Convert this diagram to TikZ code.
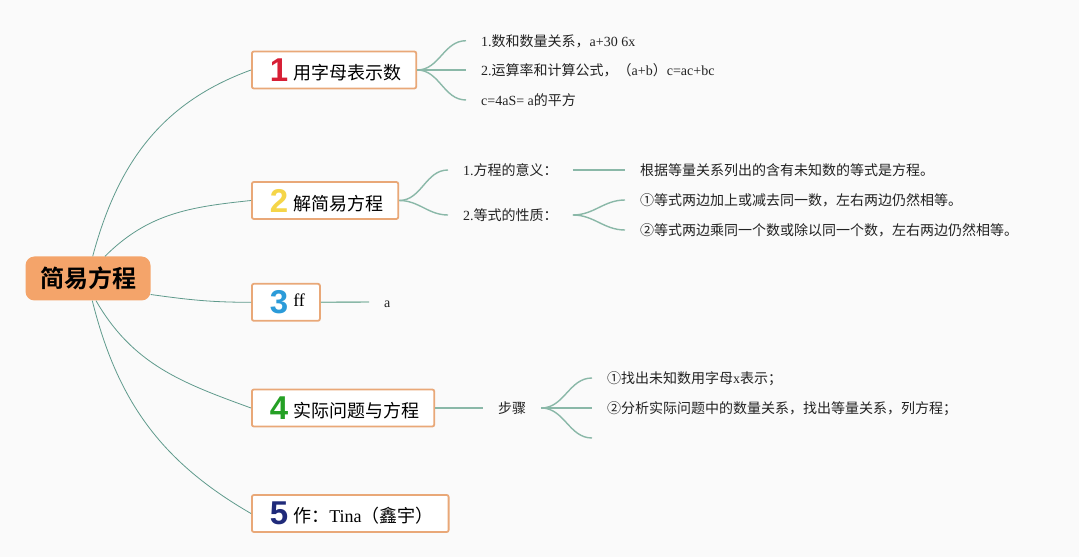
\documentclass[tikz,border=0pt]{standalone}
\usepackage{fontspec}
\setmainfont{Liberation Serif}
\newfontfamily\cjk{Noto Sans CJK SC}[BoldFont={Noto Sans CJK SC Bold}]
\newfontfamily\numfont{Liberation Sans}
\usepackage{tikz}

\definecolor{bg}{HTML}{FAFAFA}
\definecolor{rootfill}{HTML}{F4A46A}
\definecolor{boxline}{HTML}{E9A878}
\definecolor{trunkline}{HTML}{5F9A8C}
\definecolor{twigline}{HTML}{8AB8A8}
\definecolor{leaftext}{HTML}{222222}
\definecolor{num1}{HTML}{D71F35}
\definecolor{num2}{HTML}{F5D548}
\definecolor{num3}{HTML}{2B9BD9}
\definecolor{num4}{HTML}{25A025}
\definecolor{num5}{HTML}{1F2A7A}

\newcommand\branchlabel[3]{\hspace*{18pt}{\numfont\bfseries\fontsize{33}{36}\selectfont\color{#1}#2}\hspace{5pt}#3\hspace*{15pt}}

\begin{document}
\begin{tikzpicture}[x=1pt,y=1pt,
    branch/.style={draw=boxline,line width=1.8pt,fill=white,rounded corners=2pt,inner sep=0pt,
      minimum height=37pt,anchor=west,font=\fontsize{18}{22}\selectfont},
    leaf/.style={anchor=west,inner xsep=15pt,inner ysep=0pt,text height=12pt,text depth=0pt,
      font=\fontsize{14}{16}\selectfont,text=leaftext},
    trunk/.style={draw=trunkline,line width=0.8pt},
    twig/.style={draw=twigline,line width=1.4pt}]
    \fill[bg] (0,0) rectangle (1079,557);
    \useasboundingbox (0,0) rectangle (1079,557);

    \node (root) [fill=rootfill,rounded corners=9pt,minimum width=125pt,minimum height=44pt,inner sep=0pt,
      font=\cjk\bfseries\fontsize{24}{28}\selectfont] at (88,278.5) {简易方程};

    % main branches
    \node (b1) [branch] at (251,487) {\branchlabel{num1}{1}{\raisebox{2pt}{\cjk 用字母表示数}}};
    \node (b2) [branch] at (251,356.5) {\branchlabel{num2}{2}{\raisebox{2pt}{\cjk 解简易方程}}};
    \node (b3) [branch] at (251,254.7) {\branchlabel{num3}{3}{\raisebox{7pt}{ff}}};
    \node (b4) [branch] at (251,149) {\branchlabel{num4}{4}{\raisebox{2pt}{\cjk 实际问题与方程}}};
    \node (b5) [branch] at (251,43.5) {\branchlabel{num5}{5}{\raisebox{2pt}{{\cjk 作：}Tina{\cjk （鑫宇）}}}};

    \draw[trunk] ([xshift=4.7pt]root.north) to[out=75,in=200] (b1.west);
    \draw[trunk] ([xshift=17pt]root.north) to[out=45,in=186] (b2.west);
    \draw[trunk] ([yshift=-16pt]root.east) to[out=-8,in=180] (b3.west);
    \draw[trunk] ([xshift=8pt]root.south) to[out=-60,in=160] (b4.west);
    \draw[trunk] ([xshift=4.3pt]root.south) to[out=-76,in=150] (b5.west);

    % 1
    \node (l11) [leaf] at (466,516.3) {1.{\cjk 数和数量关系，}a+30 6x};
    \node (l12) [leaf] at (466,487) {2.{\cjk 运算率和计算公式，（}a+b{\cjk ）}c=ac+bc};
    \node (l13) [leaf] at (466,457) {c=4aS= a{\cjk 的平方}};
    \foreach \n in {l11,l12,l13}
      \draw[twig] (b1.east) to[out=0,in=180] (\n.west);

    % 2
    \node (l21) [leaf] at (448,387) {1.{\cjk 方程的意义：}};
    \node (l22) [leaf] at (448,342) {2.{\cjk 等式的性质：}};
    \draw[twig] (b2.east) to[out=0,in=180] (l21.west);
    \draw[twig] (b2.east) to[out=0,in=180] (l22.west);
    \node (l211) [leaf] at (625,387) {\cjk 根据等量关系列出的含有未知数的等式是方程。};
    \draw[twig] (l21.east) -- (l211.west);
    \node (l221) [leaf] at (625,357) {\cjk ①等式两边加上或减去同一数，左右两边仍然相等。};
    \node (l222) [leaf] at (625,327) {\cjk ②等式两边乘同一个数或除以同一个数，左右两边仍然相等。};
    \draw[twig] (l22.east) to[out=0,in=180] (l221.west);
    \draw[twig] (l22.east) to[out=0,in=180] (l222.west);

    % 3
    \node (l31) [leaf] at (369,255) {a};
    \draw[twig] (b3.east) -- (l31.west);

    % 4
    \node (l41) [leaf] at (483,149) {\cjk 步骤};
    \draw[twig] (b4.east) -- (l41.west);
    \node (l411) [leaf] at (592,179) {{\cjk ①找出未知数用字母}x{\cjk 表示；}};
    \node (l412) [leaf] at (592,149) {\cjk ②分析实际问题中的数量关系，找出等量关系，列方程；};
    \coordinate (l413) at (592,119);
    \draw[twig] (l41.east) to[out=0,in=180] (l411.west);
    \draw[twig] (l41.east) -- (l412.west);
    \draw[twig] (l41.east) to[out=0,in=180] (l413);
\end{tikzpicture}
\end{document}
